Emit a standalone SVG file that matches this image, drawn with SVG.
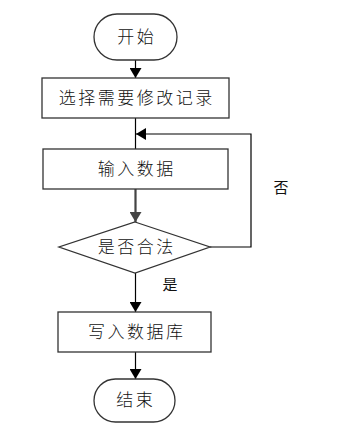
<svg xmlns="http://www.w3.org/2000/svg" width="352" height="432" viewBox="0 0 352 432">
<defs>
<marker id="ah" markerWidth="10" markerHeight="12" refX="10" refY="6" orient="auto" markerUnits="userSpaceOnUse"><path d="M0,0 L10,6 L0,12 z" fill="#000"/></marker>
<marker id="ahg" markerWidth="10" markerHeight="12" refX="10" refY="6" orient="auto" markerUnits="userSpaceOnUse"><path d="M0,0 L10,6 L0,12 z" fill="#444"/></marker>
<style>
.s{fill:#fff;stroke:#333;stroke-width:1.3}
.t{font-family:"Liberation Sans","Noto Sans CJK SC",sans-serif;font-size:17px;font-weight:300;letter-spacing:2.5px;fill:#111;text-anchor:middle;dominant-baseline:central}
.l{font-family:"Liberation Sans","Noto Sans CJK SC",sans-serif;font-size:15px;fill:#111;text-anchor:middle;dominant-baseline:central}
.c{fill:none;stroke:#000;stroke-width:1.2}
</style>
</defs>
<g id="connectors">
<path class="c" d="M135.5,60 V78" marker-end="url(#ah)"/>
<path class="c" d="M135.5,118 V149"/>
<path class="c" d="M210,247 H251 V134 H136" marker-end="url(#ah)"/>
<path d="M135.5,189 V222" fill="none" stroke="#444" stroke-width="2.2" marker-end="url(#ahg)"/>
<path class="c" d="M135.5,273 V312" marker-end="url(#ah)"/>
<path class="c" d="M135.5,352 V379" marker-end="url(#ah)"/>
<text class="l" x="281" y="187.5">否</text>
<text class="l" x="170" y="284">是</text>
</g>
<g id="start"><rect class="s" x="94" y="14" width="83" height="46" rx="23"/><text class="t" x="136.8" y="37">开始</text></g>
<g id="select"><rect class="s" x="42" y="78" width="187" height="40"/><text class="t" x="136.8" y="98">选择需要修改记录</text></g>
<g id="input"><rect class="s" x="43" y="149" width="185" height="40"/><text class="t" x="136.8" y="169">输入数据</text></g>
<g id="check"><polygon class="s" points="135,222 210,247 135,273 59,247"/><text class="t" x="136.8" y="247">是否合法</text></g>
<g id="write"><rect class="s" x="58" y="312" width="153" height="40"/><text class="t" x="136.8" y="332">写入数据库</text></g>
<g id="end"><rect class="s" x="94" y="379" width="81" height="43" rx="21.5"/><text class="t" x="135.8" y="400.5">结束</text></g>
</svg>
